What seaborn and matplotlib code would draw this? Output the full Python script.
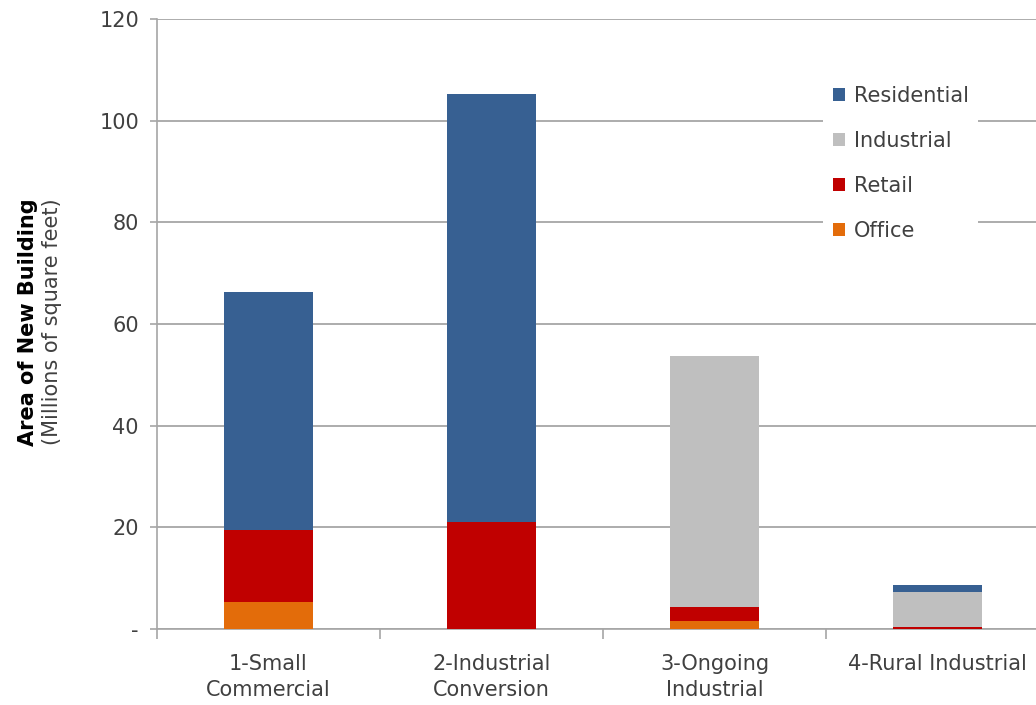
import numpy as np
import pandas as pd
import matplotlib
matplotlib.use("Agg")
import matplotlib.pyplot as plt
from matplotlib.patches import Patch
import seaborn as sns

# Land-use scenarios and new building area by use (millions of sq ft)
categories = ["1-Small\nCommercial", "2-Industrial\nConversion",
              "3-Ongoing\nIndustrial", "4-Rural Industrial"]
office = [5.3, 0.0, 1.6, 0.0]
retail = [14.2, 21.0, 2.7, 0.4]
industrial = [0.0, 0.0, 49.4, 6.9]
residential = [46.8, 84.3, 0.0, 1.4]

yticks = [0, 20, 40, 60, 80, 100, 120]
ytick_labels = ["-", "20", "40", "60", "80", "100", "120"]

colors = {
    "Office": "#E36C0A",
    "Retail": "#C00000",
    "Industrial": "#BFBFBF",
    "Residential": "#376092",
}

sns.set_theme(style="white")
plt.rcParams["font.family"] = ["DejaVu Sans"]
text_color = "#404040"
fs = 15

df = pd.DataFrame({
    "category": categories,
    "Office": office,
    "Retail": retail,
    "Industrial": industrial,
    "Residential": residential,
})
stack_order = ["Office", "Retail", "Industrial", "Residential"]
cum = df[stack_order].cumsum(axis=1)

fig = plt.figure(figsize=(10.36, 7.05), dpi=100)
ax = fig.add_axes([157 / 1036, 1 - 629 / 705, (1049 - 157) / 1036, (629 - 19) / 705])

# Stacked bars: draw cumulative totals from the top layer down
for name in reversed(stack_order):
    sns.barplot(x=df["category"], y=cum[name], color=colors[name],
                width=0.40, saturation=1, linewidth=0, ax=ax, zorder=3)

ax.set_ylim(0, 120)
ax.set_xlim(-0.5, 3.5)
ax.set_yticks(yticks)
ax.set_yticklabels(ytick_labels, fontsize=fs, color=text_color)
ax.yaxis.grid(True, color="#A6A6A6", linewidth=1.3, zorder=0)
ax.set_axisbelow(True)

# Category ticks sit on the boundaries between groups
ax.set_xticks(np.arange(len(categories)))
ax.set_xticklabels(categories, fontsize=fs, color=text_color, linespacing=1.4)
ax.tick_params(axis="x", length=0, pad=18)
ax.set_xticks(np.arange(len(categories) + 1) - 0.5, minor=True)
ax.tick_params(axis="x", which="minor", length=7, width=1.2, color="#A6A6A6",
               direction="out", bottom=True)
ax.tick_params(axis="y", length=5, width=1.2, color="#A6A6A6", direction="out",
               left=True, pad=8)

ax.set_xlabel("")
ax.set_ylabel("")
for side in ["top", "right"]:
    ax.spines[side].set_visible(False)
for side in ["left", "bottom"]:
    ax.spines[side].set_color("#A6A6A6")
    ax.spines[side].set_linewidth(1.2)

# Two-line axis title: bold heading plus unit note
fig.text(0.027, 1 - 322 / 705, "Area of New Building", rotation=90,
         ha="center", va="center", fontsize=fs, fontweight="bold", color="black")
fig.text(0.050, 1 - 322 / 705, "(Millions of square feet)", rotation=90,
         ha="center", va="center", fontsize=fs, color=text_color)

legend_order = ["Residential", "Industrial", "Retail", "Office"]
handles = [Patch(facecolor=colors[n], edgecolor="none") for n in legend_order]
leg = ax.legend(handles, legend_order, loc="upper left",
                bbox_to_anchor=((813 - 157) / (1049 - 157), (629 - 66) / 610),
                frameon=True, fontsize=fs, handlelength=0.6, handleheight=0.6,
                handletextpad=0.4, labelspacing=1.2, borderpad=0.45,
                labelcolor=text_color)
leg.get_frame().set_facecolor("white")
leg.get_frame().set_edgecolor("none")
leg.get_frame().set_alpha(1)
leg.set_zorder(5)

fig.savefig("out.png", dpi=100)
